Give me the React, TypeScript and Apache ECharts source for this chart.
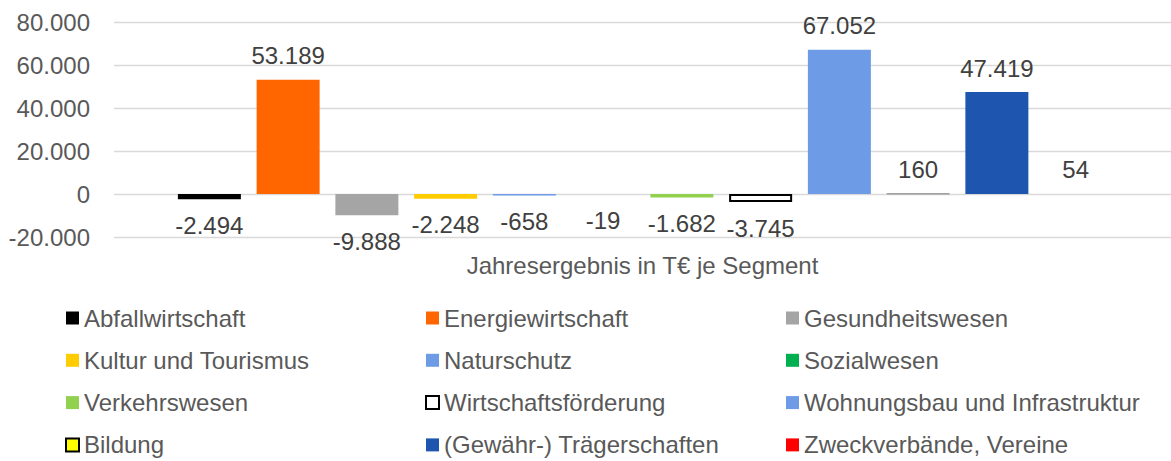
import React, { useEffect, useRef } from "react";
import * as echarts from "echarts";

const segments = [
  "Abfallwirtschaft",
  "Energiewirtschaft",
  "Gesundheitswesen",
  "Kultur und Tourismus",
  "Naturschutz",
  "Sozialwesen",
  "Verkehrswesen",
  "Wirtschaftsförderung",
  "Wohnungsbau und Infrastruktur",
  "Bildung",
  "(Gewähr-) Trägerschaften",
  "Zweckverbände, Vereine",
];
const values = [-2494, 53189, -9888, -2248, -658, -19, -1682, -3745, 67052, 160, 47419, 54];
const fillColors = [
  "#000000", "#FF6600", "#A5A5A5", "#FFCC00", "#6D9BE6", "#00B050",
  "#92D050", "#FFFFFF", "#6D9BE6", "#FFFF00", "#1E56AF", "#FF0000",
];
const borderColors: (string | null)[] = [
  null, null, null, null, null, null, null, "#000000", null, "#000000", null, null,
];
const axisTitle = "Jahresergebnis in T€ je Segment";
const yMin = -20000;
const yMax = 80000;
const yStep = 20000;

const legendColumns = [
  [0, 3, 6, 9],
  [1, 4, 7, 10],
  [2, 5, 8, 11],
];

function fmt(v: number): string {
  const neg = v < 0;
  const s = String(Math.abs(Math.round(v)));
  const out = s.replace(/\B(?=(\d{3})+(?!\d))/g, ".");
  return (neg ? "-" : "") + out;
}

export default function App() {
  const ref = useRef<HTMLDivElement>(null);
  useEffect(() => {
    if (!ref.current) return;
    const chart = echarts.init(ref.current, undefined, { renderer: "svg" });
    const font = "'Liberation Sans', Arial, sans-serif";
    const series = segments.map((name, i) => {
      const v = values[i];
      const bc = borderColors[i];
      const big = Math.abs(v) > 1000;
      return {
        name,
        type: "bar",
        data: [v],
        barWidth: 63,
        barGap: "25%",
        itemStyle: {
          color: fillColors[i],
          borderColor: bc ? (big ? bc : "#8c8c8c") : fillColors[i],
          borderWidth: bc ? (big ? 2 : 0.8) : 0,
        },
        label: {
          show: true,
          position: v >= 0 ? "top" : "bottom",
          distance: v >= 0 ? 12 : 14,
          formatter: () => fmt(v),
          fontSize: 24,
          color: "#404040",
          fontFamily: font,
        },
        emphasis: { disabled: true },
      };
    });
    const legendXs = [65, 425, 786];
    const legends = legendColumns.map((col, c) => ({
      orient: "vertical",
      left: legendXs[c],
      top: 306,
      height: 160,
      padding: 0,
      icon: "rect",
      itemWidth: 13,
      itemHeight: 13,
      itemGap: 18.3,
      selectedMode: false,
      data: col.map((i) => ({
        name: segments[i],
        itemStyle: borderColors[i]
          ? { color: fillColors[i], borderColor: borderColors[i], borderWidth: 2 }
          : { color: fillColors[i], borderWidth: 0 },
      })),
      textStyle: {
        fontSize: 24,
        color: "#595959",
        fontFamily: font,
      },
    }));
    chart.setOption({
      animation: false,
      textStyle: { fontFamily: font },
      grid: { left: 114, right: 0, top: 22, bottom: 224, containLabel: false },
      legend: legends,
      xAxis: {
        type: "category",
        data: [""],
        name: axisTitle,
        nameLocation: "middle",
        nameGap: 16,
        nameTextStyle: { fontSize: 24, color: "#595959", fontFamily: font },
        axisLine: { show: false, onZero: false },
        axisTick: { show: false },
        axisLabel: { show: false },
      },
      yAxis: {
        type: "value",
        min: yMin,
        max: yMax,
        interval: yStep,
        axisLine: { show: false },
        axisTick: { show: false },
        axisLabel: {
          formatter: (v: number) => fmt(v),
          fontSize: 24,
          color: "#595959",
          margin: 24,
          fontFamily: font,
        },
        splitLine: { lineStyle: { color: "#d9d9d9", width: 1.4 } },
      },
      series,
    });
    return () => chart.dispose();
  }, []);
  return (
    <div
      ref={ref}
      style={{ position: "absolute", left: 0, top: 0, width: 1171, height: 461 }}
    />
  );
}
